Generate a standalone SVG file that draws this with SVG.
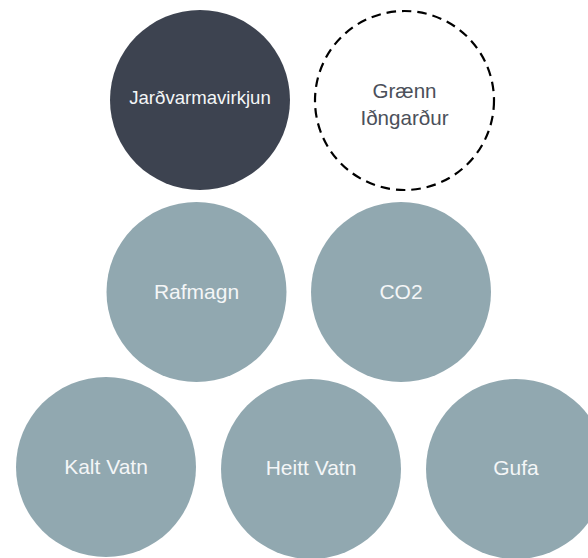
<svg xmlns="http://www.w3.org/2000/svg" width="588" height="558" viewBox="0 0 588 558">
<style>
.n{fill:#91a8b0}
.t{font-family:"Liberation Sans",Arial,sans-serif;font-size:21px;fill:#f4f6f7;text-anchor:middle}
</style>
<rect width="588" height="558" fill="#fff"/>
<g id="jardvarmavirkjun">
<circle cx="200" cy="100" r="90" fill="#3d4350"/>
<text class="t" x="200" y="104" style="font-size:18.6px">Jarðvarmavirkjun</text>
</g>
<g id="graenn">
<circle cx="404.5" cy="100.5" r="89.5" fill="none" stroke="#000" stroke-width="2.2" stroke-dasharray="9.5 6"/>
<text class="t" x="404.5" y="98" style="fill:#4b505a;font-size:20.6px"><tspan x="404.5" y="98">Grænn</tspan><tspan x="404.5" y="125">Iðngarður</tspan></text>
</g>
<g id="rafmagn">
<circle class="n" cx="196.5" cy="292" r="90"/>
<text class="t" x="196.5" y="299">Rafmagn</text>
</g>
<g id="co2">
<circle class="n" cx="401" cy="292" r="90"/>
<text class="t" x="401" y="299">CO2</text>
</g>
<g id="kalt">
<circle class="n" cx="106" cy="467" r="90"/>
<text class="t" x="106" y="473.5">Kalt Vatn</text>
</g>
<g id="heitt">
<circle class="n" cx="311" cy="469" r="90"/>
<text class="t" x="311" y="475">Heitt Vatn</text>
</g>
<g id="gufa">
<circle class="n" cx="516" cy="469" r="90"/>
<text class="t" x="516" y="475">Gufa</text>
</g>
<g id="connectors"/>
</svg>
